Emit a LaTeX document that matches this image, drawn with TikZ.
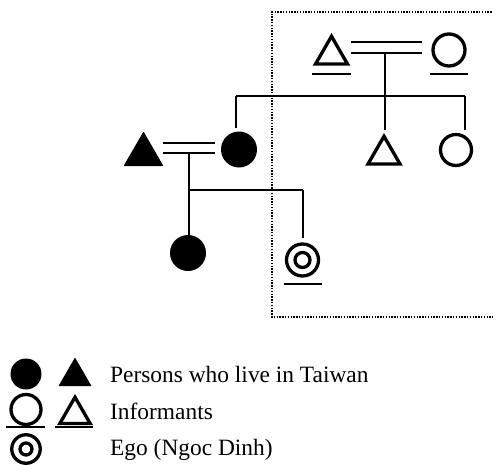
\documentclass[tikz,border=0pt]{standalone}
\usepackage{fontspec}
\setmainfont{Liberation Serif}
\usetikzlibrary{shapes.geometric}
\begin{document}
\begin{tikzpicture}[x=1pt,y=-1pt,
  kin/.style={line width=1.3pt},
  uline/.style={line width=1.6pt},
  dotbox/.style={line width=1.6pt, dash pattern=on 1.4pt off 1.4pt},
  htri/.style={regular polygon, regular polygon sides=3, draw, line width=3.3pt,
    line join=miter, inner sep=0pt, outer sep=0pt, minimum size=#1},
  ftri/.style={regular polygon, regular polygon sides=3, fill=black, draw=black,
    line width=1pt, line join=round, inner sep=0pt, outer sep=0pt, minimum size=#1},
  hcirc/.style={circle, draw, line width=3.3pt, inner sep=0pt, outer sep=0pt, minimum size=#1},
  fcirc/.style={circle, fill=black, inner sep=0pt, outer sep=0pt, minimum size=#1},
  legtext/.style={anchor=base west, inner sep=0pt, font=\fontsize{23.4}{28}\selectfont}
]
\useasboundingbox (0,0) rectangle (493,464);

% dotted frame (right side runs past the picture edge)
\draw[dotbox] (500,12) -- (272,12) -- (272,317) -- (500,317);

% persons
\node[htri=37] (gf) at (331.5,54.8) {};
\node[hcirc=32] (gm) at (449,50) {};
\node[ftri=44] (fa) at (143.5,154.5) {};
\node[fcirc=36] (mo) at (239,149.5) {};
\node[htri=37] (un) at (384,154.8) {};
\node[hcirc=31] (au) at (456,150) {};
\node[fcirc=36] (ch) at (188,253) {};
\node[hcirc=32] (ego) at (302.5,260) {};
\node[hcirc=15] (egoin) at (ego.center) {};

% informant underlines
\draw[uline] (312,74) -- (351,74);
\draw[uline] (430,74) -- (468,74);
\draw[uline] (284,284) -- (322,284);

% upper couple
\coordinate (ma1) at (351,42);
\coordinate (ma2) at (422,42);
\coordinate (mb1) at (351,53);
\coordinate (mb2) at (422,53);
\draw[kin] (ma1) -- (ma2);
\draw[kin] (mb1) -- (mb2);
\coordinate (d1) at (385,53);
\coordinate (sibL) at (236,96);
\coordinate (sibR) at (465,96);
\draw[kin] (d1) -- (d1 |- sibL);
\draw[kin] (sibL) -- (sibR);
\draw[kin, shorten >=3.5pt] (sibL) -- (sibL |- mo.north);
\draw[kin, shorten >=6pt] (d1 |- sibL) -- (d1 |- un.north);
\draw[kin, shorten >=5pt] (sibR) -- (sibR |- au.north);

% lower couple
\coordinate (mc1) at (163,143);
\coordinate (mc2) at (215,143);
\coordinate (md1) at (163,153);
\coordinate (md2) at (215,153);
\draw[kin] (mc1) -- (mc2);
\draw[kin] (md1) -- (md2);
\coordinate (d2) at (189,153);
\coordinate (chL) at (189,190);
\coordinate (chR) at (303,190);
\draw[kin] (d2) -- (chL);
\draw[kin] (chL) -- (chR);
\draw[kin] (chL) -- (chL |- ch.north);
\draw[kin, shorten >=6pt] (chR) -- (chR |- ego.north);

% legend
\node[fcirc=31] (lc1) at (26,374) {};
\node[ftri=36] (lt1) at (75,376.5) {};
\node[hcirc=30] (lc2) at (26,409.5) {};
\node[htri=35] (lt2) at (75,414.7) {};
\draw[uline] (6,427) -- (45,427);
\draw[uline] (55,427) -- (93,427);
\node[hcirc=28.5] (lego) at (26,449) {};
\node[hcirc=12] (legoin) at (lego.center) {};

\node[legtext] (t1) at (110,382) {Persons who live in Taiwan};
\node[legtext] (t2) at (110,419) {Informants};
\node[legtext] (t3) at (110,455) {Ego (Ngoc Dinh)};
\end{tikzpicture}
\end{document}
